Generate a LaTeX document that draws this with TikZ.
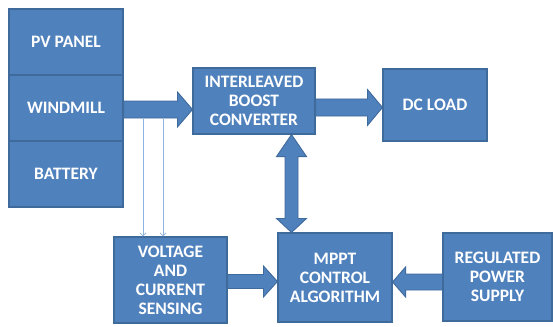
\documentclass[tikz,border=0pt]{standalone}
\usepackage{fontspec}
\setmainfont{Carlito}
\usetikzlibrary{calc,arrows.meta}
\definecolor{boxfill}{HTML}{4F81BD}
\definecolor{boxline}{HTML}{3F6A9C}
\definecolor{thinblue}{HTML}{8DB3E2}
\tikzset{
  blk/.style={draw=boxline, line width=1.1pt, fill=boxfill, text=white, inner sep=0pt,
    align=center, font=\fontsize{17.5}{19}\selectfont\bfseries},
  blockarrow/.style={draw=boxline, line width=0.9pt, fill=boxfill, line join=miter},
  thin/.style={draw=thinblue, line width=0.8pt, -{Straight Barb[length=3pt,width=6pt]}}
}
% #1 start, #2 tip, #3 shaft half width, #4 head half width, #5 head length (all pt)
\newcommand\fatarrow[5]{%
  \draw[blockarrow]
    ($(#1)!#3pt!90:(#2)$) --
    ($($(#2)!#5pt!(#1)$)!#3pt!90:(#2)$) --
    ($($(#2)!#5pt!(#1)$)!#4pt!90:(#2)$) --
    (#2) --
    ($($(#2)!#5pt!(#1)$)!#4pt!-90:(#2)$) --
    ($($(#2)!#5pt!(#1)$)!#3pt!-90:(#2)$) --
    ($(#1)!#3pt!-90:(#2)$) -- cycle;}
% double-headed: #1 end A, #2 end B, #3 shaft half, #4 head half, #5 head length at A, #6 head length at B
\newcommand\dblarrow[6]{%
  \draw[blockarrow]
    (#1) --
    ($($(#1)!#5pt!(#2)$)!#4pt!90:(#2)$) --
    ($($(#1)!#5pt!(#2)$)!#3pt!90:(#2)$) --
    ($($(#2)!#6pt!(#1)$)!#3pt!-90:(#1)$) --
    ($($(#2)!#6pt!(#1)$)!#4pt!-90:(#1)$) --
    (#2) --
    ($($(#2)!#6pt!(#1)$)!#4pt!90:(#1)$) --
    ($($(#2)!#6pt!(#1)$)!#3pt!90:(#1)$) --
    ($($(#1)!#5pt!(#2)$)!#3pt!-90:(#2)$) --
    ($($(#1)!#5pt!(#2)$)!#4pt!-90:(#2)$) -- cycle;}
\begin{document}
\begin{tikzpicture}[x=1pt,y=-1pt]
\useasboundingbox (0,0) rectangle (553,326);
\node[blk, minimum width=114pt, minimum height=66pt] (pv) at (66,42) {PV PANEL};
\node[blk, minimum width=114pt, minimum height=66pt] (wind) at (66,108) {WINDMILL};
\node[blk, minimum width=114pt, minimum height=66pt] (bat) at (66,174) {BATTERY};
\node[blk, minimum width=122pt, minimum height=66pt] (conv) at (254,101) {INTERLEAVED\\BOOST\\CONVERTER};
\node[blk, minimum width=104pt, minimum height=72pt] (dc) at (435,105) {DC LOAD};
\node[blk, minimum width=113pt, minimum height=86pt] (volt) at (170.5,280) {VOLTAGE\\AND\\CURRENT\\SENSING};
\node[blk, minimum width=114pt, minimum height=89pt] (mppt) at (335,277.5) {MPPT\\CONTROL\\ALGORITHM};
\node[blk, minimum width=109pt, minimum height=88pt] (reg) at (497.5,277) {REGULATED\\POWER\\SUPPLY};

% wind -> converter
\coordinate (w1) at (wind.east |- 0,109.5);
\coordinate (w2) at (conv.west |- 0,109.5);
\fatarrow{w1}{w2}{8.5}{17.5}{15}
% converter -> dc load
\coordinate (c1) at (conv.east |- 0,107.5);
\coordinate (c2) at (dc.west |- 0,107.5);
\fatarrow{c1}{c2}{8.5}{18}{15}
% converter <-> mppt
\coordinate (d1) at (291.5,0 |- conv.south);
\coordinate (d2) at (291.5,0 |- mppt.north);
\dblarrow{d1}{d2}{6.5}{15}{22}{14}
% voltage -> mppt
\coordinate (v1) at (volt.east |- 0,281.5);
\coordinate (v2) at (mppt.west |- 0,281.5);
\fatarrow{v1}{v2}{7}{15.5}{14}
% regulated -> mppt
\coordinate (r1) at (reg.west |- 0,282);
\coordinate (r2) at (mppt.east |- 0,282);
\fatarrow{r1}{r2}{8}{15}{13}
% thin sensing lines
\coordinate (t1) at (143,118.5);
\coordinate (t2) at (163,118.5);
\draw[thin] (t1) -- (t1 |- volt.north);
\draw[thin] (t2) -- (t2 |- volt.north);
\end{tikzpicture}
\end{document}
